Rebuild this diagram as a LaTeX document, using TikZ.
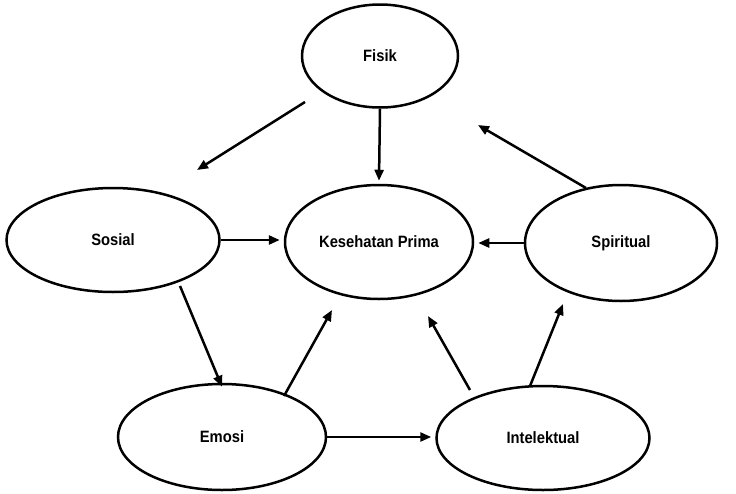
\documentclass[tikz,border=0pt]{standalone}
\usepackage{fontspec}
\setmainfont{Liberation Sans}
\newfontfamily\lblfont[FakeStretch=0.9]{Liberation Sans}
\usetikzlibrary{shapes.geometric,arrows.meta}
\begin{document}
\begin{tikzpicture}[x=1pt,y=-1pt,
  ell/.style={ellipse,draw,line width=2.5pt,inner sep=0pt,font=\lblfont\bfseries\fontsize{16.4}{18}\selectfont},
  arr/.style={line width=2.5pt,-{Triangle[length=11pt,width=9pt]}}]
\useasboundingbox (0,0) rectangle (736,493);
\node[ell,minimum width=156pt,minimum height=103pt] (fisik) at (380,56) {Fisik};
\node[ell,minimum width=213pt,minimum height=104pt] (sosial) at (113,240) {Sosial};
\node[ell,minimum width=188pt,minimum height=114pt] (kes) at (379,242) {Kesehatan Prima};
\node[ell,minimum width=192pt,minimum height=116pt] (spir) at (621,243) {Spiritual};
\node[ell,minimum width=208pt,minimum height=106pt] (emosi) at (222,437) {Emosi};
\node[ell,minimum width=213pt,minimum height=104pt] (intel) at (543,438) {Intelektual};
\coordinate (fs) at (305,102);
\coordinate (fl) at (197,170);
\coordinate (ss) at (586,188);
\coordinate (sp) at (478,125);
\coordinate (so) at (180,286);
\coordinate (es) at (284,396);
\coordinate (ke) at (332,310);
\coordinate (is) at (470,390);
\coordinate (ki) at (428,316);
\coordinate (it) at (530,386);
\coordinate (sb) at (563,304);
\draw[arr] (fs) -- (fl);
\draw[arr] (fisik.south) -- ([yshift=3pt]kes.north);
\draw[arr] (ss) -- (sp);
\draw[arr] (sosial.east) -- ([xshift=-4pt]sosial.east -| kes.west);
\draw[arr] (spir.west) -- ([xshift=4pt]spir.west -| kes.east);
\draw[arr] (so) -- ([yshift=-4pt]emosi.north);
\draw[arr] (es) -- (ke);
\draw[arr] (emosi.east) -- ([xshift=-4pt]emosi.east -| intel.west);
\draw[arr] (is) -- (ki);
\draw[arr] (it) -- (sb);
\end{tikzpicture}
\end{document}
